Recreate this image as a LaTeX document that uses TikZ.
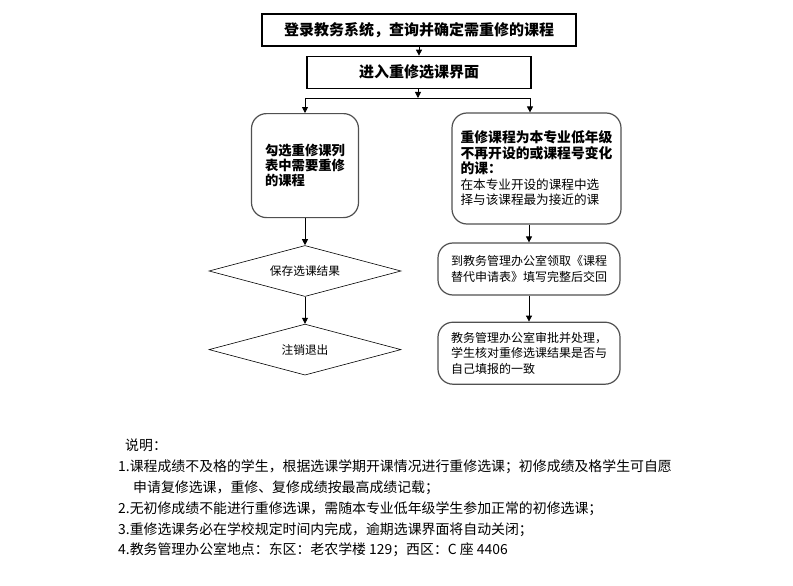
\documentclass[tikz,border=0pt]{standalone}
\usepackage{fontspec}
\setmainfont{Noto Sans CJK SC}
\usepackage{tikz}
\usetikzlibrary{arrows.meta,positioning,shapes.geometric}
\definecolor{framegray}{HTML}{505050}
\tikzset{
  headbox/.style={
    rectangle,
    draw=black,
    line width=1.3pt,
    align=center,
    inner sep=0pt,
    minimum height=32pt,
    font=\fontsize{15}{18}\selectfont\bfseries
  },
  choice/.style={
    rectangle,
    rounded corners=15pt,
    draw=framegray,
    line width=1.2pt,
    align=left,
    inner sep=0pt,
    font=\fontsize{12}{15.5}\selectfont
  },
  check/.style={
    diamond,
    draw=black,
    line width=0.6pt,
    aspect=3.76,
    inner sep=0pt,
    minimum width=192pt,
    minimum height=51pt,
    font=\fontsize{11.7}{14}\selectfont
  },
  line/.style={-{Triangle[length=6pt,width=6pt]}, line width=0.8pt, draw=black},
  rule/.style={line width=0.8pt, draw=black}
}

\begin{document}
\begin{tikzpicture}[x=1pt,y=-1pt]
  \fill[white] (0,0) rectangle (793,586);
  \useasboundingbox (0,0) rectangle (793,586);

  \node[headbox, minimum width=314pt] (login) at (419,30) {登录教务系统，查询并确定需重修的课程};
  \node[headbox, minimum width=224pt, below=9pt of login] (enter) {进入重修选课界面};

  \coordinate (fork) at (418,98);
  \coordinate (forkL) at (305,98);
  \coordinate (forkR) at (530,98);

  \node[choice, minimum width=107pt, minimum height=104pt,
        font=\fontsize{13.3}{15}\selectfont\bfseries, below=15pt of forkL] (pick)
    {勾选重修课列\\表中需要重修\\的课程};
  \node[choice, minimum width=169pt, minimum height=111pt] (swap) at (536.5,168.5)
    {{\fontsize{13.8}{16}\selectfont\bfseries 重修课程为本专业低年级}\\
     {\fontsize{13.8}{16}\selectfont\bfseries 不再开设的或课程号变化}\\
     {\fontsize{13.8}{16}\selectfont\bfseries 的课：}\\
     {\fontsize{12.6}{16}\selectfont 在本专业开设的课程中选}\\
     {\fontsize{12.6}{16}\selectfont 择与该课程最为接近的课}};

  \node[check, below=27pt of pick] (save) {保存选课结果};
  \node[check, below=27pt of save] (quit) {注销退出};

  \node[choice, minimum width=182pt, minimum height=52pt] (apply) at (529,269)
    {到教务管理办公室领取《课程\\替代申请表》填写完整后交回};
  \node[choice, minimum width=182pt, minimum height=62pt, below=26pt of apply] (verify)
    {教务管理办公室审批并处理，\\学生核对重修选课结果是否与\\自己填报的一致};

  \node[anchor=north west, align=left, inner sep=0pt,
        font=\fontsize{13.9}{20.8}\selectfont] (notes) at (118,439)
    {\hspace*{7pt}说明：\\
     1.课程成绩不及格的学生，根据选课学期开课情况进行重修选课；初修成绩及格学生可自愿\\
     \hspace*{15pt}申请复修选课，重修、复修成绩按最高成绩记载；\\
     2.无初修成绩不能进行重修选课，需随本专业低年级学生参加正常的初修选课；\\
     3.重修选课务必在学校规定时间内完成，逾期选课界面将自动关闭；\\
     4.教务管理办公室地点：东区：老农学楼 129；西区：C 座 4406};

  \draw[line] (login) -- (enter);
  \draw[line] (enter.south -| fork) -- (fork);
  \draw[rule] (forkL) -- (forkR);
  \draw[line] (forkL) -- (forkL |- pick.north);
  \draw[line] (forkR) -- (forkR |- swap.north);
  \draw[line] (pick) -- (save);
  \draw[line] (save) -- (quit);
  \draw[line] (swap.south -| apply) -- (apply);
  \draw[line] (apply) -- (verify);
\end{tikzpicture}
\end{document}
